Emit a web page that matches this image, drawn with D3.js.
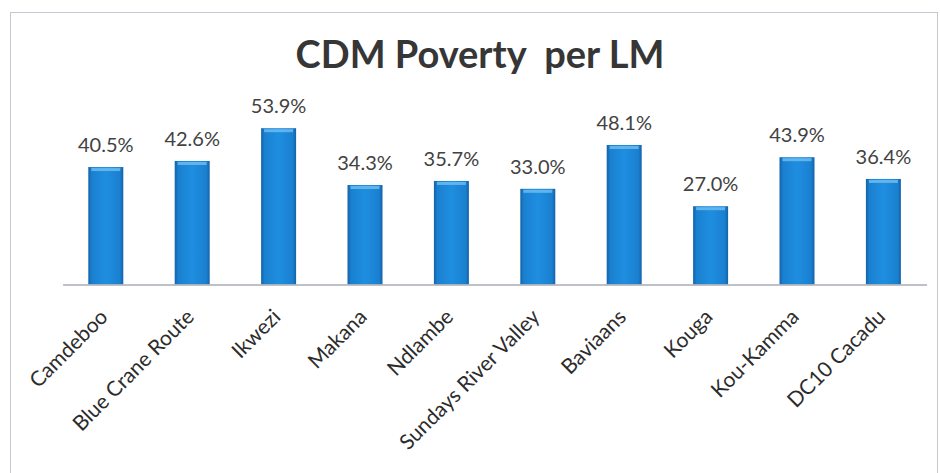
<!DOCTYPE html>
<html>
<head>
<meta charset="utf-8">
<script src="https://cdn.jsdelivr.net/npm/d3@7"></script>
<style>
  html, body { margin: 0; padding: 0; background: #ffffff; }
  svg { display: block; }
</style>
</head>
<body>
<svg id="chart" width="940" height="473"></svg>
<script>
// Poverty share per local municipality
const categories = ["Camdeboo", "Blue Crane Route", "Ikwezi", "Makana", "Ndlambe",
  "Sundays River Valley", "Baviaans", "Kouga", "Kou-Kamma", "DC10 Cacadu"];
const poverty = [40.5, 42.6, 53.9, 34.3, 35.7, 33.0, 48.1, 27.0, 43.9, 36.4];
const yDomain = [0, 60];
const titleText = "CDM Poverty  per LM";

const svg = d3.select("#chart");

// chart frame
svg.append("rect").attr("x", 10.5).attr("y", 12.5).attr("width", 927).attr("height", 480)
  .attr("fill", "#ffffff").attr("stroke", "#c4c8d0").attr("stroke-width", 1);

const defs = svg.append("defs");
const grad = defs.append("linearGradient").attr("id", "barGrad")
  .attr("x1", "0").attr("x2", "1").attr("y1", "0").attr("y2", "0");
grad.append("stop").attr("offset", "0%").attr("stop-color", "#1462a8");
grad.append("stop").attr("offset", "10%").attr("stop-color", "#1a80d0");
grad.append("stop").attr("offset", "50%").attr("stop-color", "#1f8ee0");
grad.append("stop").attr("offset", "90%").attr("stop-color", "#1a80d0");
grad.append("stop").attr("offset", "100%").attr("stop-color", "#1462a8");

const x = d3.scaleBand().domain(categories).range([62.6, 926.6])
  .paddingInner(0.595).paddingOuter(0.2975);
const y = d3.scaleLinear().domain(yDomain).range([284.5, 284.5 - 2.9 * 60]);

// title
svg.append("text").attr("x", 480).attr("y", 68)
  .attr("text-anchor", "middle")
  .style("white-space", "pre")
  .attr("font-family", "Lato, 'Open Sans', sans-serif")
  .attr("font-weight", 700).attr("font-size", 38).attr("fill", "#363636")
  .text(titleText);

// bars
const bars = svg.append("g");
bars.selectAll("rect.bar").data(poverty).join("rect").attr("class", "bar")
  .attr("x", (d, i) => x(categories[i]))
  .attr("y", d => y(d))
  .attr("width", x.bandwidth())
  .attr("height", d => y(0) - y(d))
  .attr("fill", "url(#barGrad)");
// light cap along each bar top
bars.selectAll("rect.cap").data(poverty).join("rect").attr("class", "cap")
  .attr("x", (d, i) => x(categories[i]) + 3)
  .attr("y", d => y(d) + 1)
  .attr("width", x.bandwidth() - 6)
  .attr("height", 3)
  .attr("fill", "#6cbcef").attr("opacity", 0.85);

// axis line
const axis = svg.append("g").attr("transform", `translate(0,${y(0)})`)
  .call(d3.axisBottom(x).tickSize(0).tickFormat(""));
axis.select(".domain").attr("stroke", "#a8adb5").attr("stroke-width", 1.5);

// value labels
svg.append("g").selectAll("text").data(poverty).join("text")
  .attr("x", (d, i) => x(categories[i]) + x.bandwidth() / 2)
  .attr("y", d => y(d) - 15)
  .attr("text-anchor", "middle")
  .attr("font-family", "Lato, 'Open Sans', sans-serif")
  .attr("font-size", 20).attr("fill", "#424242")
  .text(d => d.toFixed(1) + "%");

// category labels
svg.append("g").selectAll("text").data(categories).join("text")
  .attr("transform", d => `translate(${x(d) + x.bandwidth() / 2 - 2},${313}) rotate(-45)`)
  .attr("text-anchor", "end")
  .attr("dy", "0.35em")
  .attr("font-family", "Lato, 'Open Sans', sans-serif")
  .attr("font-size", 21).attr("fill", "#2c2c2c")
  .text(d => d);
</script>
</body>
</html>
